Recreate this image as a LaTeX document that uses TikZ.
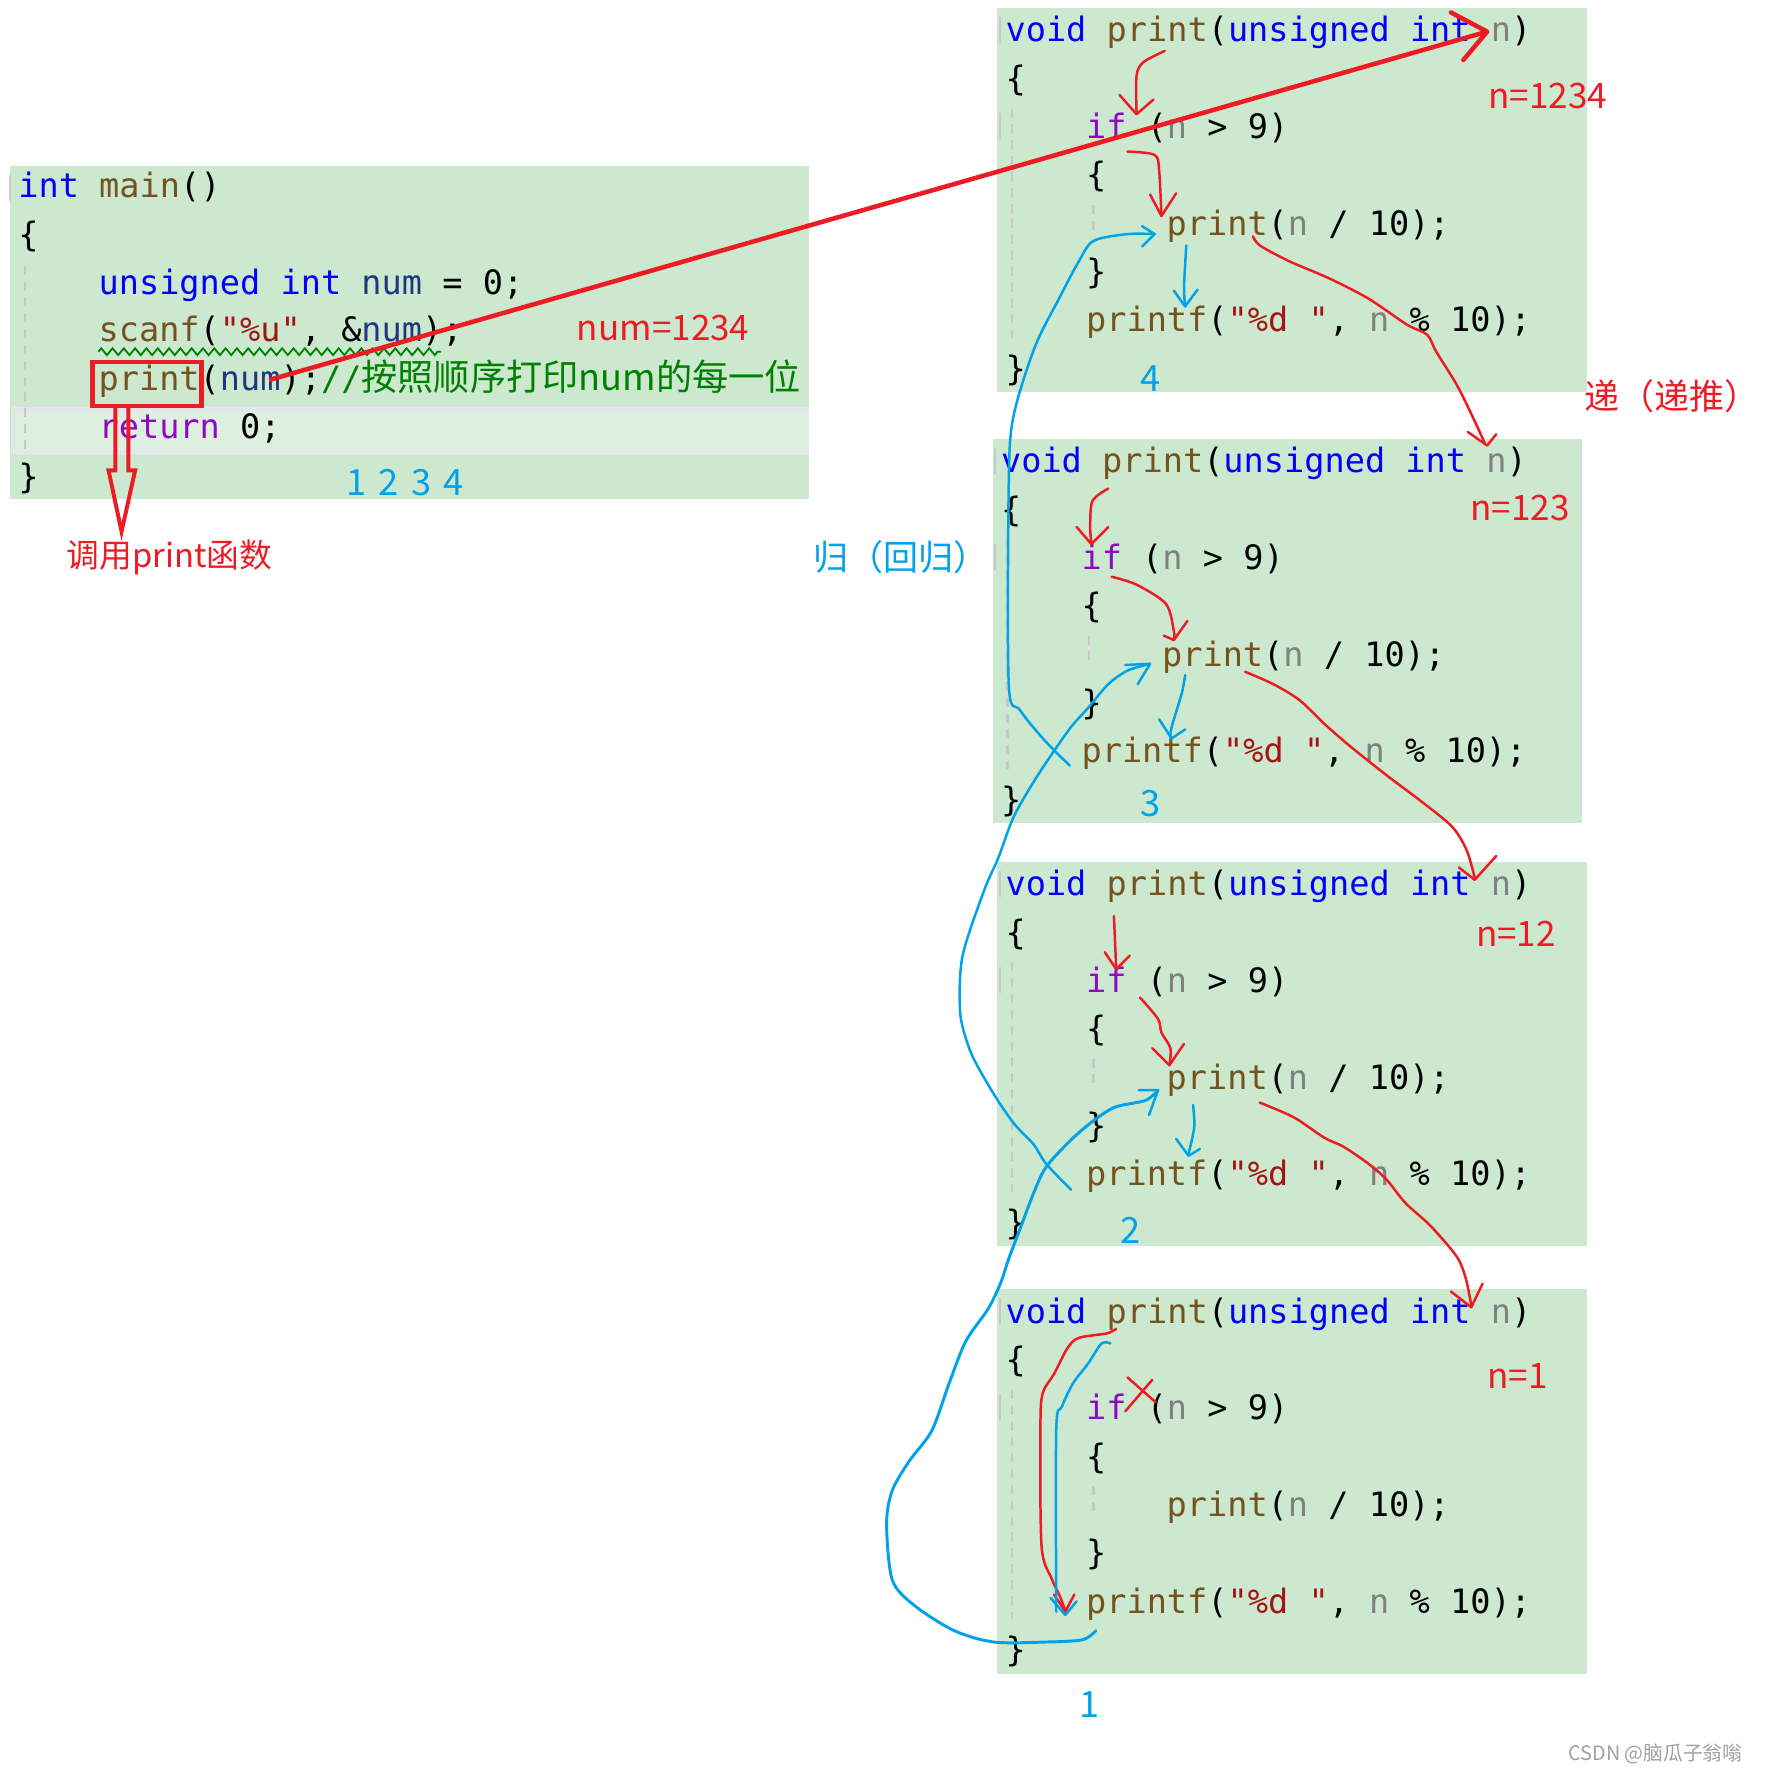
\documentclass[tikz,border=0pt]{standalone}
\usepackage{fontspec}
\setmonofont{DejaVu Sans Mono}
\newfontfamily\cjk{Noto Sans CJK SC}
\usetikzlibrary{decorations.pathmorphing}
\definecolor{bg}{RGB}{204,232,207}
\definecolor{hl}{RGB}{221,239,223}
\definecolor{hlb}{RGB}{229,229,236}
\definecolor{kw}{RGB}{0,0,255}
\definecolor{fn}{RGB}{116,83,31}
\definecolor{ctl}{RGB}{143,8,196}
\definecolor{pa}{RGB}{128,128,128}
\definecolor{st}{RGB}{163,21,21}
\definecolor{vr}{RGB}{31,55,127}
\definecolor{cm}{RGB}{0,128,0}
\definecolor{pred}{RGB}{237,28,36}
\definecolor{pblue}{RGB}{0,162,232}
\definecolor{guide}{RGB}{200,200,200}
\definecolor{wm}{RGB}{160,160,160}
\newcommand\Kw[1]{\textcolor{kw}{#1}}
\newcommand\Fn[1]{\textcolor{fn}{#1}}
\newcommand\Ctl[1]{\textcolor{ctl}{#1}}
\newcommand\Pa[1]{\textcolor{pa}{#1}}
\newcommand\St[1]{\textcolor{st}{#1}}
\newcommand\Vr[1]{\textcolor{vr}{#1}}
\newcommand\Cm[1]{\textcolor{cm}{#1}}
\newcommand\PrintBox[3]{%
\begin{scope}[shift={(#2,#3)}]
\fill[bg] (-7,0) rectangle (514,340);
\fill[guide] (-6,8) rectangle (-4,31);
\fill[guide] (-6,93) rectangle (-4,116);
\draw[guideline] (6,89) -- (6,292);
\draw[guideline] (78,174) -- (78,198);
\node[code] (#1a) at (0,30) {\Kw{void} \Fn{print}(\Kw{unsigned} \Kw{int} \Pa{n})};
\node[code] (#1b) at (0,72.75) {\{};
\node[code] (#1c) at (71.2,115.5) {\Ctl{if} (\Pa{n} > 9)};
\node[code] (#1d) at (71.2,158.25) {\{};
\node[code] (#1e) at (142.4,201) {\Fn{print}(\Pa{n} / 10);};
\node[code] (#1f) at (71.2,243.75) {\}};
\node[code] (#1g) at (71.2,286.5) {\Fn{printf}(\St{"\%d "}, \Pa{n} \% 10);};
\node[code] (#1h) at (0,329.25) {\}};
\end{scope}}
\begin{document}
\begin{tikzpicture}[x=1pt,y=-1pt,
  code/.style={font=\ttfamily\fontsize{29.7}{36}\selectfont, anchor=base west, inner sep=0pt, text=black},
  lbl/.style={font=\cjk\fontsize{31}{36}\selectfont, inner sep=0pt},
  lbld/.style={font=\cjk\fontsize{32}{38}\selectfont, inner sep=0pt, text=pblue},
  lbls/.style={font=\cjk\fontsize{29}{34}\selectfont, inner sep=0pt},
  lblb/.style={font=\cjk\fontsize{31}{36}\selectfont, inner sep=0pt},
  guideline/.style={draw=guide, line width=2pt, dash pattern=on 8pt off 6pt},
  redpen/.style={draw=pred, line width=2.2pt, line cap=round, line join=round},
  bluepen/.style={draw=pblue, line width=2.2pt, line cap=round, line join=round},
  squig/.style={draw=cm, line width=1.6pt, decorate, decoration={zigzag, segment length=10pt, amplitude=3pt}}]
\useasboundingbox (0,0) rectangle (1560,1574);
\fill[white] (0,0) rectangle (1560,1574);
% ---------- main ----------
\fill[bg] (9,147) rectangle (715,441);
\fill[hlb] (10,360) rectangle (715,402);
\fill[hl] (14,364) rectangle (715,398);
\fill[guide] (8,155) rectangle (10,178);
\draw[guideline] (22,235) -- (22,398);
\node[code] (m1) at (16,175) {\Kw{int} \Fn{main}()};
\node[code] (m2) at (16,218) {\{};
\node[code] (m3) at (87,260) {\Kw{unsigned} \Kw{int} \Vr{num} = 0;};
\node[code] (m4) at (87,302) {\Fn{scanf}(\St{"\%u"}, \&\Vr{num});};
\node[code] (m5) at (87,345) {\Fn{print}(\Vr{num});\Cm{//{\cjk\fontsize{32}{36}\selectfont 按照顺序打印num的每一位}}};
\node[code] (m6) at (87,388) {\Ctl{return} 0;};
\node[code] (m7) at (16,432) {\}};
\coordinate (sq1) at (87,311);
\coordinate (sq2) at (390,311);
\draw[squig] (sq1) -- (sq2);
\node[lbl, text=pred, anchor=west] (numlbl) at (510,290) {num=1234};
\node[lbld, anchor=west] (seq) at (306,427) {1\hspace{11pt}2\hspace{11pt}3\hspace{11pt}4};
\node[lbls, text=pred] (call) at (150,493) {调用print函数};
\node[lblb, text=pblue, anchor=west] (gui) at (719,493) {归（回归）};
\node[lblb, text=pred, anchor=west] (di) at (1401,350) {递（递推）};
% ---------- print boxes ----------
\PrintBox{p}{889}{7}
\PrintBox{q}{885}{388}
\PrintBox{r}{889}{762}
\PrintBox{s}{889}{1140}
\node[lbl, text=pred, anchor=west] (n1) at (1316,85) {n=1234};
\node[lbl, text=pred, anchor=west] (n2) at (1300,449) {n=123};
\node[lbl, text=pred, anchor=west] (n3) at (1305,826) {n=12};
\node[lbl, text=pred, anchor=west] (n4) at (1315,1217) {n=1};
\node[lbld] (d4) at (1017,335) {4};
\node[lbld] (d3) at (1017,711) {3};
\node[lbld] (d2) at (1000,1088) {2};
\node[lbld] (d1) at (963,1507) {1};
\node[font=\cjk\fontsize{17.5}{20}\selectfont, text=wm, anchor=east, inner sep=0pt] (wmk) at (1541,1551) {CSDN @脑瓜子翁嗡};
% ---------- main annotations ----------
\draw[pred, line width=4pt] (82,320) rectangle (178,359);
\draw[pred, line width=3.5pt, line join=miter] (102,359) -- (102,416) -- (96,416) -- (107.5,470) -- (119.5,416) -- (113.5,416) -- (113.5,359);
\coordinate (bs) at (238,336);
\coordinate (bt) at (1315,28);
\draw[pred, line width=4pt] (bs) -- (bt);
\draw[pred, line width=4pt, line cap=round, line join=round] (1283,11) -- (bt) -- (1294,53);
% ---------- red pen ----------
\draw[redpen] plot[smooth] coordinates {(1030,45) (1011,55) (1005,67) (1005,99)};
\draw[redpen] (990,84) -- (1005,101) -- (1020,88);
\draw[redpen] plot[smooth] coordinates {(997,134) (1021,137) (1025,151) (1027,191)};
\draw[redpen] (1017,172) -- (1027,191) -- (1040,171);
\draw[redpen] plot[smooth] coordinates {(1108,209) (1114,217) (1140,231) (1175,246) (1210,264) (1244,287) (1262,296) (1270,311) (1288,340) (1301,366) (1313,392)};
\draw[redpen] (1298,382) -- (1315,394) -- (1323,384);
\draw[redpen] plot[smooth] coordinates {(980,432) (966,443) (964,466) (965,479)};
\draw[redpen] (952,466) -- (965,481) -- (980,466);
\draw[redpen] plot[smooth] coordinates {(983,510) (1005,517) (1031,534) (1038,558) (1038,565)};
\draw[redpen] (1029,562) -- (1038,566) -- (1050,549);
\draw[redpen] plot[smooth] coordinates {(1101,594) (1126,605) (1149,619) (1171,640) (1194,660) (1228,687) (1256,708) (1284,731) (1297,752) (1304,776)};
\draw[redpen] (1290,767) -- (1304,778) -- (1323,757);
\draw[redpen] (985,810) -- (987,856);
\draw[redpen] (977,842) -- (987,857) -- (999,845);
\draw[redpen] plot[smooth] coordinates {(1008,882) (1024,901) (1027,913) (1035,927) (1034,942)};
\draw[redpen] (1019,927) -- (1034,942) -- (1047,923);
\draw[redpen] plot[smooth] coordinates {(1114,975) (1144,988) (1171,1006) (1188,1014) (1210,1029) (1226,1043) (1243,1064) (1265,1084) (1288,1111) (1296,1130) (1301,1154)};
\draw[redpen] (1283,1142) -- (1301,1156) -- (1311,1135);
\draw[redpen] plot[smooth] coordinates {(987,1175) (979,1179) (954,1183) (944,1192) (932,1215) (922,1232) (920,1262) (921,1367) (930,1396) (937,1411) (942,1424)};
\draw[redpen] (932,1410) -- (942,1425) -- (950,1410);
\draw[redpen] (997,1218) -- (1022,1240);
\draw[redpen] (1019,1220) -- (995,1248);
% ---------- blue pen ----------
\draw[bluepen] plot[smooth] coordinates {(1049,217) (1047,254) (1048,271)};
\draw[bluepen] (1038,257) -- (1048,271) -- (1059,256);
\draw[bluepen] plot[smooth] coordinates {(946,677) (924,655) (902,628) (892,605) (892,428) (896,369) (915,307) (937,263) (954,231) (967,213) (997,207) (1021,207)};
\draw[bluepen] (1010,200) -- (1021,207) -- (1010,218);
\draw[bluepen] plot[smooth] coordinates {(1048,597) (1045,613) (1036,643) (1035,652)};
\draw[bluepen] (1025,636) -- (1036,653) -- (1048,645);
\draw[bluepen] plot[smooth] coordinates {(947,1052) (925,1029) (914,1012) (897,994) (881,971) (864,942) (856,924) (849,895) (851,846) (870,788) (883,758) (896,723) (913,693) (930,667) (947,643) (963,625) (980,605) (997,593) (1017,587)};
\draw[bluepen] (995,588) -- (1017,587) -- (1006,605);
\draw[bluepen] plot[smooth] coordinates {(1055,977) (1056,997) (1051,1020)};
\draw[bluepen] (1040,1007) -- (1051,1022) -- (1061,1016);
\draw[bluepen, line width=2.6pt] plot[smooth] coordinates {(969,1442) (957,1450) (924,1452) (879,1452) (844,1442) (809,1420) (789,1397) (784,1347) (789,1318) (804,1292) (824,1265) (839,1224) (854,1186) (874,1157) (885,1134) (892,1113) (903,1084) (914,1055) (925,1032) (947,1008) (967,991) (986,979) (1013,973) (1024,964)};
\draw[bluepen] (1007,964) -- (1024,964) -- (1016,986);
\draw[bluepen] plot[smooth] coordinates {(982,1188) (974,1188) (962,1206) (949,1223) (939,1244) (934,1264) (934,1425)};
\draw[bluepen] (929,1413) -- (942,1428) -- (952,1416);
\end{tikzpicture}
\end{document}
